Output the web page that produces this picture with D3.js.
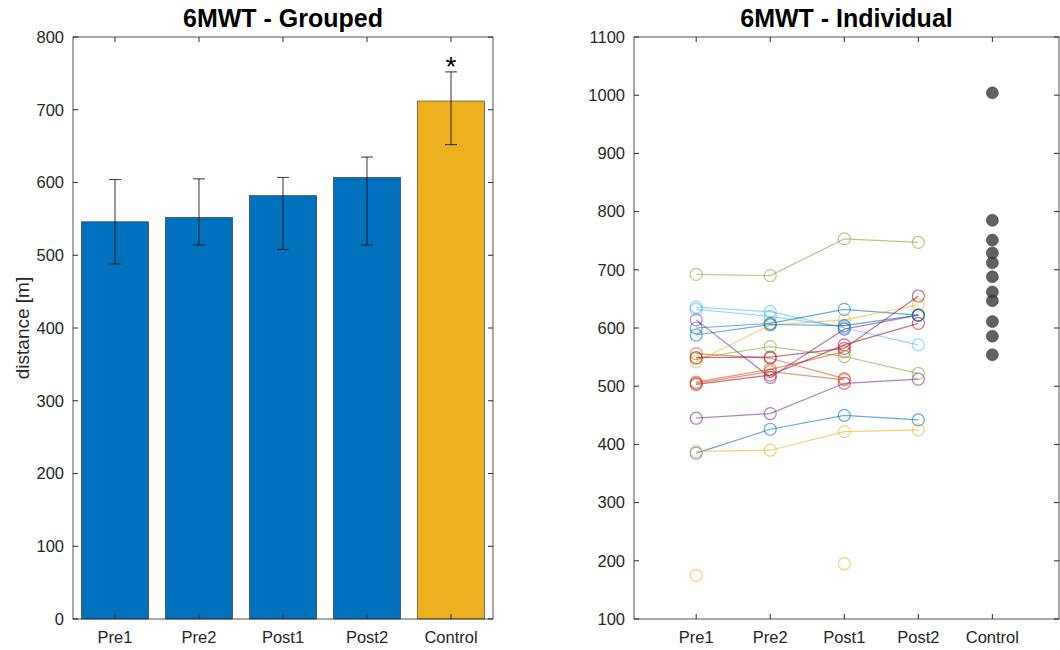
<!doctype html>
<html>
<head>
<meta charset="utf-8">
<script src="https://cdn.jsdelivr.net/npm/d3@7"></script>
<style>
  body { margin: 0; background: #fff; }
  svg { font-family: "Liberation Sans", Arial, sans-serif; }
</style>
</head>
<body>
<svg id="chart" width="1060" height="650"></svg>
<script>
const groups = ["Pre1", "Pre2", "Post1", "Post2", "Control"];

// grouped means and error bars (m)
const means = [546, 552, 582, 607, 712];
const errLow = [488, 514, 508, 514, 652];
const errHigh = [604, 605, 607, 635, 752];
const barColors = ["#0072BD", "#0072BD", "#0072BD", "#0072BD", "#EDB120"];

// individual patients: Pre1, Pre2, Post1, Post2 (null = missing)
const subjects = [
  [385, 426, 450, 442],
  [507, 529, 559, null],
  [388, 390, 422, 425],
  [445, 453, 505, 512],
  [692, 690, 753, 747],
  [636, 628, 600, 571],
  [503, 519, 571, 608],
  [600, 608, 632, 622],
  [556, 548, 513, null],
  [542, 605, 614, 640],
  [614, 515, 598, 622],
  [548, 568, 551, 522],
  [632, 620, 602, null],
  [549, 550, 565, 655],
  [588, 606, 604, 622],
  [505, 525, 511, null],
  [175, null, 195, null]
];
const controls = [1004, 785, 751, 729, 712, 688, 662, 647, 611, 586, 554];
const palette = ["#0072BD", "#D95319", "#EDB120", "#7E2F8E", "#77AC30", "#4DBEEE", "#A2142F"];

const leftTicks = d3.range(0, 801, 100);
const rightTicks = d3.range(100, 1101, 100);

const svg = d3.select("#chart");
const axisColor = "#262626";
const tickLen = 5;
const tickFont = 16.5;

function box(g, x0, x1, y0, y1) {
  g.append("rect").attr("x", x0).attr("y", y0).attr("width", x1 - x0).attr("height", y1 - y0)
    .attr("fill", "none").attr("stroke", axisColor).attr("stroke-width", 0.8);
}

// ---------- left: grouped bars ----------
const L = {x0: 73, x1: 493, y0: 37, y1: 619};
const xL = d3.scaleLinear().domain([0.5, 5.5]).range([L.x0, L.x1]);
const yL = d3.scaleLinear().domain([0, 800]).range([L.y1, L.y0]);
const gL = svg.append("g");

gL.selectAll("rect.bar").data(means).join("rect")
  .attr("class", "bar")
  .attr("x", (d, i) => xL(i + 1 - 0.4))
  .attr("width", (d, i) => xL(i + 1.4) - xL(i + 0.6))
  .attr("y", d => yL(d))
  .attr("height", d => yL(0) - yL(d))
  .attr("fill", (d, i) => barColors[i])
  .attr("stroke", "#333").attr("stroke-width", 0.6);

const eb = gL.selectAll("g.err").data(means).join("g").attr("class", "err")
  .attr("stroke", "#000").attr("stroke-width", 0.8);
eb.append("line").attr("x1", (d, i) => xL(i + 1)).attr("x2", (d, i) => xL(i + 1))
  .attr("y1", (d, i) => yL(errLow[i])).attr("y2", (d, i) => yL(errHigh[i]));
eb.append("line").attr("x1", (d, i) => xL(i + 1) - 6).attr("x2", (d, i) => xL(i + 1) + 6)
  .attr("y1", (d, i) => yL(errLow[i])).attr("y2", (d, i) => yL(errLow[i]));
eb.append("line").attr("x1", (d, i) => xL(i + 1) - 6).attr("x2", (d, i) => xL(i + 1) + 6)
  .attr("y1", (d, i) => yL(errHigh[i])).attr("y2", (d, i) => yL(errHigh[i]));

gL.append("text").attr("x", xL(5)).attr("y", yL(errHigh[4]) + 4)
  .attr("text-anchor", "middle").attr("font-size", 28).text("*");

box(gL, L.x0, L.x1, L.y0, L.y1);

// y ticks (inside, both sides)
leftTicks.forEach(t => {
  gL.append("line").attr("x1", L.x0).attr("x2", L.x0 + tickLen).attr("y1", yL(t)).attr("y2", yL(t)).attr("stroke", axisColor);
  gL.append("line").attr("x1", L.x1).attr("x2", L.x1 - tickLen).attr("y1", yL(t)).attr("y2", yL(t)).attr("stroke", axisColor);
  gL.append("text").attr("x", L.x0 - 9).attr("y", yL(t)).attr("dy", "0.35em")
    .attr("text-anchor", "end").attr("font-size", tickFont).attr("fill", axisColor).text(t);
});
groups.forEach((gname, i) => {
  const x = xL(i + 1);
  gL.append("line").attr("x1", x).attr("x2", x).attr("y1", L.y1).attr("y2", L.y1 - tickLen).attr("stroke", axisColor);
  gL.append("line").attr("x1", x).attr("x2", x).attr("y1", L.y0).attr("y2", L.y0 + tickLen).attr("stroke", axisColor);
  gL.append("text").attr("x", x).attr("y", 643).attr("text-anchor", "middle")
    .attr("font-size", tickFont).attr("fill", axisColor).text(gname);
});
gL.append("text").attr("transform", `translate(29,${(L.y0 + L.y1) / 2}) rotate(-90)`)
  .attr("text-anchor", "middle").attr("font-size", 19).attr("fill", axisColor).text("distance [m]");
gL.append("text").attr("x", (L.x0 + L.x1) / 2).attr("y", 27).attr("text-anchor", "middle")
  .attr("font-size", 25).attr("font-weight", "bold").text("6MWT - Grouped");

// ---------- right: individual ----------
const R = {x0: 634, x1: 1059, y0: 37, y1: 619};
const xR = d3.scaleLinear().domain([0.16, 5.9]).range([R.x0, R.x1]);
const yR = d3.scaleLinear().domain([100, 1100]).range([R.y1, R.y0]);
const gR = svg.append("g");

const line = d3.line().defined(d => d != null).x((d, i) => xR(i + 1)).y(d => yR(d));
subjects.forEach((s, k) => {
  const c = palette[k % palette.length];
  gR.append("path").attr("d", line(s)).attr("fill", "none")
    .attr("stroke", c).attr("stroke-opacity", 0.6).attr("stroke-width", 1.2);
  s.forEach((v, i) => {
    if (v == null) return;
    gR.append("circle").attr("cx", xR(i + 1)).attr("cy", yR(v)).attr("r", 6)
      .attr("fill", "none").attr("stroke", c).attr("stroke-opacity", 0.6).attr("stroke-width", 1.2);
  });
});

gR.selectAll("circle.ctrl").data(controls).join("circle").attr("class", "ctrl")
  .attr("cx", xR(5)).attr("cy", d => yR(d)).attr("r", 6)
  .attr("fill", "#3a3a3a").attr("fill-opacity", 0.8).attr("stroke", "#444").attr("stroke-opacity", 0.6);

box(gR, R.x0, R.x1, R.y0, R.y1);
rightTicks.forEach(t => {
  gR.append("line").attr("x1", R.x0).attr("x2", R.x0 + tickLen).attr("y1", yR(t)).attr("y2", yR(t)).attr("stroke", axisColor);
  gR.append("line").attr("x1", R.x1).attr("x2", R.x1 - tickLen).attr("y1", yR(t)).attr("y2", yR(t)).attr("stroke", axisColor);
  gR.append("text").attr("x", R.x0 - 9).attr("y", yR(t)).attr("dy", "0.35em")
    .attr("text-anchor", "end").attr("font-size", tickFont).attr("fill", axisColor).text(t);
});
groups.forEach((gname, i) => {
  const x = xR(i + 1);
  gR.append("line").attr("x1", x).attr("x2", x).attr("y1", R.y1).attr("y2", R.y1 - tickLen).attr("stroke", axisColor);
  gR.append("line").attr("x1", x).attr("x2", x).attr("y1", R.y0).attr("y2", R.y0 + tickLen).attr("stroke", axisColor);
  gR.append("text").attr("x", x).attr("y", 643).attr("text-anchor", "middle")
    .attr("font-size", tickFont).attr("fill", axisColor).text(gname);
});
gR.append("text").attr("x", (R.x0 + R.x1) / 2).attr("y", 27).attr("text-anchor", "middle")
  .attr("font-size", 25).attr("font-weight", "bold").text("6MWT - Individual");
</script>
</body>
</html>
